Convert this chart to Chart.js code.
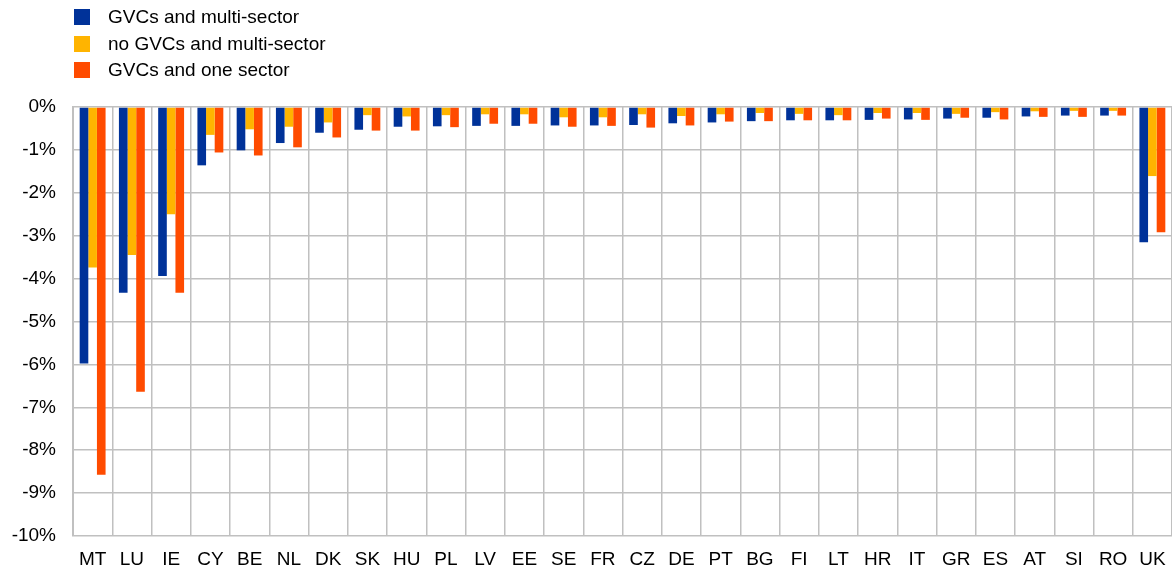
<!DOCTYPE html>
<html>
<head>
<meta charset="utf-8">
<script src="https://cdn.jsdelivr.net/npm/chart.js@4/dist/chart.umd.min.js"></script>
<style>
  html, body { margin: 0; padding: 0; background: #fff; }
  #wrap { position: relative; width: 1172px; height: 574px; overflow: hidden; }
  #legend { position: absolute; left: 74px; top: 4px; font-family: "Liberation Sans", Arial, sans-serif; font-size: 19px; color: #000; }
  .item { display: flex; align-items: center; height: 26.5px; }
  .box { width: 16px; height: 16px; margin-right: 18px; }
</style>
</head>
<body>
<div id="wrap">
  <canvas id="chart" width="1172" height="574"></canvas>
  <div id="legend"></div>
</div>
<script>
const countries = ["MT", "LU", "IE", "CY", "BE", "NL", "DK", "SK", "HU", "PL", "LV", "EE", "SE", "FR",
  "CZ", "DE", "PT", "BG", "FI", "LT", "HR", "IT", "GR", "ES", "AT", "SI", "RO", "UK"];

const gvcsMulti = [-5.98, -4.33, -3.94, -1.36, -1.01, -0.84, -0.6, -0.53, -0.46, -0.45, -0.44, -0.44, -0.43, -0.43,
  -0.42, -0.38, -0.36, -0.33, -0.31, -0.31, -0.3, -0.29, -0.27, -0.25, -0.22, -0.2, -0.2, -3.15];
const noGvcsMulti = [-3.74, -3.45, -2.5, -0.65, -0.52, -0.46, -0.36, -0.19, -0.22, -0.19, -0.17, -0.17, -0.24, -0.24,
  -0.17, -0.21, -0.17, -0.14, -0.16, -0.19, -0.14, -0.14, -0.16, -0.12, -0.1, -0.09, -0.09, -1.61];
const gvcsOne = [-8.57, -6.64, -4.33, -1.06, -1.13, -0.94, -0.71, -0.55, -0.55, -0.47, -0.39, -0.39, -0.46, -0.44,
  -0.48, -0.43, -0.34, -0.33, -0.31, -0.31, -0.27, -0.3, -0.25, -0.29, -0.23, -0.23, -0.2, -2.92];

const seriesNames = ["GVCs and multi-sector", "no GVCs and multi-sector", "GVCs and one sector"];
const seriesColors = ["#003299", "#ffb400", "#ff4b00"];

const font = "'Liberation Sans', Arial, sans-serif";
const gridColor = "#c0c0c0";

const chart = new Chart(document.getElementById("chart"), {
  type: "bar",
  data: {
    labels: countries,
    datasets: [gvcsMulti, noGvcsMulti, gvcsOne].map((values, i) => ({
      label: seriesNames[i],
      data: values,
      backgroundColor: seriesColors[i],
      borderWidth: 0,
      categoryPercentage: 0.66,
      barPercentage: 1
    }))
  },
  options: {
    responsive: false,
    animation: false,
    layout: {
      padding: { left: 9, right: -2, top: 107, bottom: 0 }
    },
    plugins: {
      legend: { display: false },
      tooltip: { enabled: false }
    },
    scales: {
      x: {
        afterFit: (scale) => {
          scale.height = 38;
          scale.paddingLeft = 0;
          scale.paddingRight = 0;
        },
        ticks: {
          color: "#000",
          font: { family: font, size: 19 },
          padding: 12,
          maxRotation: 0,
          autoSkip: false
        },
        grid: {
          color: gridColor,
          lineWidth: 1.5,
          drawTicks: false,
          offset: true
        },
        border: { display: false }
      },
      y: {
        min: -10,
        max: 0,
        afterFit: (scale) => { scale.width = 64; },
        ticks: {
          stepSize: 1,
          color: "#000",
          font: { family: font, size: 19 },
          padding: 17,
          callback: (value) => `${value}%`
        },
        grid: {
          color: gridColor,
          lineWidth: 1.5,
          drawTicks: false
        },
        border: { color: gridColor, width: 2 }
      }
    }
  }
});

const legendEl = document.getElementById("legend");
legendEl.innerHTML = seriesNames.map((name, i) => `
  <div class="item"><span class="box" style="background:${seriesColors[i]}"></span>${name}</div>
`).join("");
</script>
</body>
</html>
